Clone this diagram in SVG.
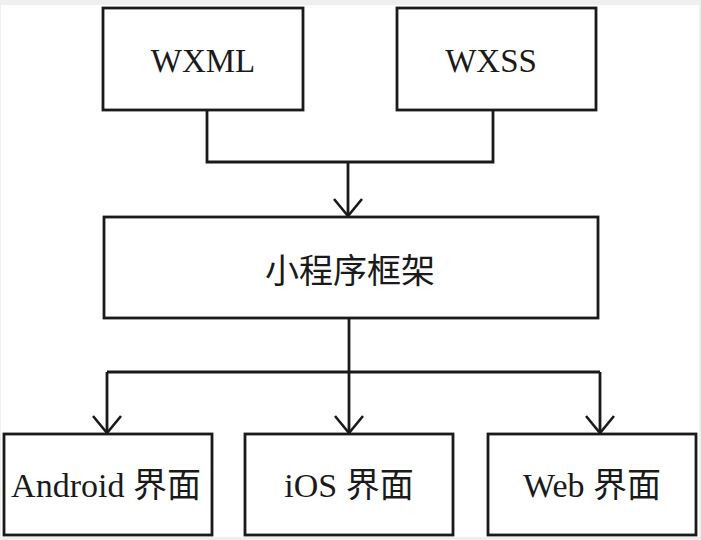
<svg xmlns="http://www.w3.org/2000/svg" width="701" height="540" viewBox="0 0 701 540">
<defs>
<style>
.box{fill:#fff;stroke:#1a1a1a;stroke-width:2.8}
.lbl{font-family:"Liberation Serif","Noto Sans CJK SC",serif;fill:#1a1a1a;text-anchor:middle}
.top{font-size:33px}
.bot{font-size:34px}
.con{fill:none;stroke:#1a1a1a;stroke-width:2.8}
</style>
<marker id="ah" viewBox="0 0 20 30" refX="19" refY="15" markerWidth="20" markerHeight="30" markerUnits="userSpaceOnUse" orient="auto">
<path d="M2,1 L19,15 L2,29" fill="none" stroke="#1a1a1a" stroke-width="2.6"/>
</marker>
</defs>
<rect x="0" y="0" width="701" height="540" fill="#efefef"/>
<rect x="1" y="5" width="698" height="532" fill="#ffffff"/>
<g id="connectors">
<path class="con" d="M207,110 V162 H493 V110"/>
<path class="con" d="M348,162 V216" marker-end="url(#ah)"/>
<path class="con" d="M349,318 V372"/>
<path class="con" d="M107,372 H600"/>
<path class="con" d="M107,372 V433" marker-end="url(#ah)"/>
<path class="con" d="M349,372 V433" marker-end="url(#ah)"/>
<path class="con" d="M600,372 V433" marker-end="url(#ah)"/>
</g>
<g id="wxml">
<rect class="box" x="103" y="8" width="200" height="102"/>
<text class="lbl top" x="203" y="72">WXML</text>
</g>
<g id="wxss">
<rect class="box" x="397" y="8" width="199" height="102"/>
<text class="lbl top" x="491" y="72">WXSS</text>
</g>
<g id="framework">
<rect class="box" x="104" y="217" width="494" height="101"/>
<text class="lbl bot" x="350" y="283">小程序框架</text>
</g>
<g id="android">
<rect class="box" x="4" y="434" width="208" height="101"/>
<text class="lbl bot" x="106" y="497">Android 界面</text>
</g>
<g id="ios">
<rect class="box" x="245" y="434" width="208" height="101"/>
<text class="lbl bot" x="349" y="497">iOS 界面</text>
</g>
<g id="web">
<rect class="box" x="488" y="434" width="208" height="101"/>
<text class="lbl bot" x="592" y="497">Web 界面</text>
</g>
</svg>
